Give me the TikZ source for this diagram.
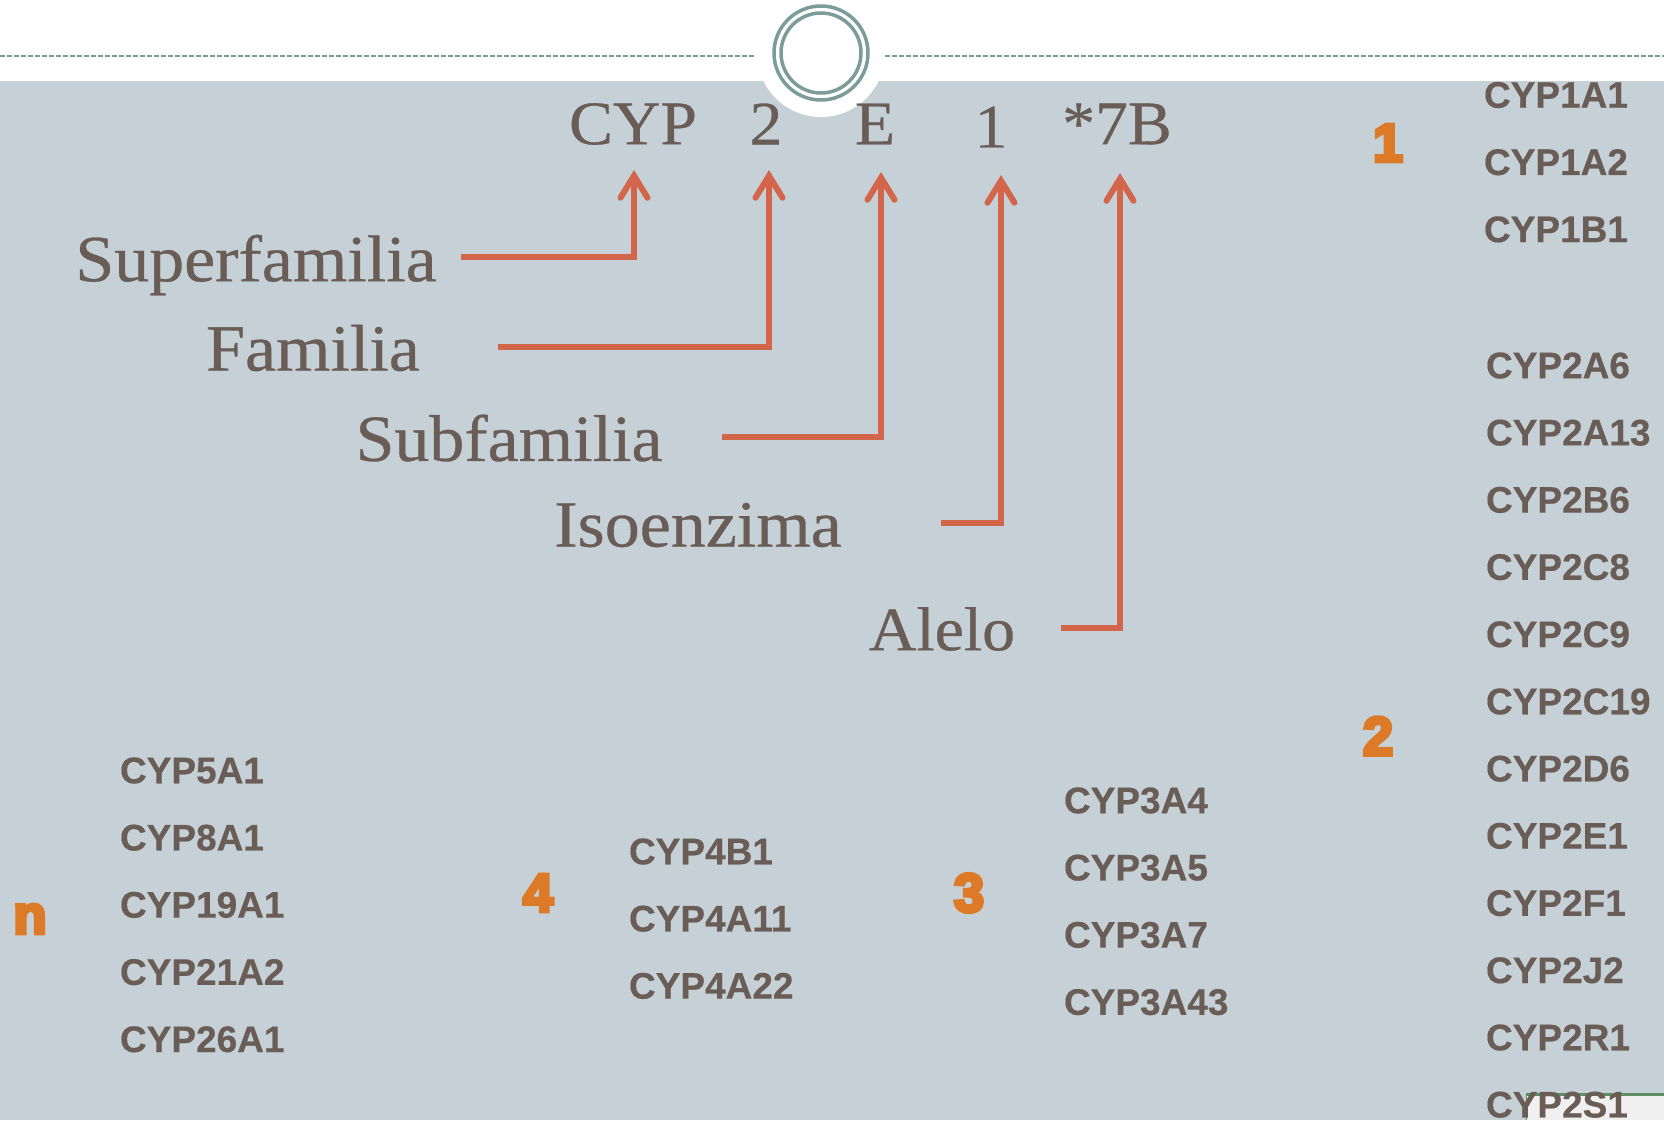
\documentclass[tikz,border=0pt]{standalone}
\usepackage{fontspec}
\setmainfont[FakeStretch=1.06,FakeBold=0.5]{Liberation Serif}
\setsansfont[FakeBold=0.4]{Liberation Sans}
\newfontfamily\digitfont[FakeBold=7]{Liberation Sans Bold}
\usetikzlibrary{arrows, arrows.meta, positioning}
\definecolor{slidebg}{HTML}{C5D1D7}
\definecolor{inktext}{HTML}{695D56}
\definecolor{ringteal}{HTML}{7C9C9A}
\definecolor{arrowred}{HTML}{D3654A}
\definecolor{digitorange}{HTML}{DC7A28}
\definecolor{boxgreen}{HTML}{5E8F62}
\tikzstyle{cyp} = [
  inner sep=0,
  text width=170pt,
  align=left,
  text=inktext,
  font=\sffamily\bfseries\fontsize{37}{37}\selectfont
]
\tikzstyle{code} = [
  inner sep=0,
  text=inktext,
  font=\fontsize{62}{62}\selectfont
]
\tikzstyle{level} = [
  inner sep=0,
  text=inktext,
  font=\fontsize{66}{66}\selectfont
]
\tikzstyle{digit} = [
  inner sep=0,
  text=digitorange,
  font=\digitfont\fontsize{54}{54}\selectfont
]
\tikzstyle{arrow} = [
  line width=5.5pt,
  arrowred,
  -{Straight Barb[length=22pt,width=27pt,line width=6pt,line cap=round,line join=miter]}
]

\begin{document}
\begin{tikzpicture}[x=1pt,y=1pt,node distance=67.2pt]
      \useasboundingbox (0,0) rectangle (1664,-1120);
      \fill [slidebg] (0,-81) rectangle (1664,-1120);
      \fill [white] (821,-53) circle (64);
      \draw [ringteal, line width=2pt, dash pattern=on 5pt off 2pt] (0,-56) -- (755,-56);
      \draw [ringteal, line width=2pt, dash pattern=on 5pt off 2pt] (885,-56) -- (1664,-56);
      \draw [ringteal, line width=3.5pt] (821,-53) circle (47);
      \draw [ringteal, line width=3.5pt] (821,-53) circle (40);
      \fill [black!6] (1526,-1094) rectangle (1664,-1120);
      \draw [boxgreen, line width=1pt] (1526,-1120) -- (1526,-1094);
      \draw [boxgreen, line width=3pt] (1526,-1094) -- (1664,-1094);

      \node [code] (cyp) at (633,-124) {CYP};
      \node [code] (fam) at (766,-124) {2};
      \node [code] (sub) at (875,-124) {E};
      \node [code] (iso) at (991,-127) {1};
      \node [code] (ale) at (1117,-124) {*7B};

      \node [level] (superfamilia) at (256,-265) {Superfamilia};
      \node [level] (familia) at (313,-348) {Familia};
      \node [level] (subfamilia) at (509,-438) {Subfamilia};
      \node [level] (isoenzima) at (698,-525) {Isoenzima};
      \node [level, font=\fontsize{62}{62}\selectfont] (alelo) at (942,-629) {Alelo};

      \coordinate (superend) at (461,-257);
      \coordinate (famend) at (498,-347);
      \coordinate (subend) at (722,-437);
      \coordinate (isoend) at (941,-523);
      \coordinate (aleend) at (1061,-628);
      \coordinate (cyptip) at (634,-170);
      \coordinate (famtip) at (769,-170);
      \coordinate (subtip) at (881,-172);
      \coordinate (isotip) at (1001,-175);
      \coordinate (aletip) at (1120,-173);

      \draw [arrow] (superend) -| (cyptip);
      \draw [arrow] (famend) -| (famtip);
      \draw [arrow] (subend) -| (subtip);
      \draw [arrow] (isoend) -| (isotip);
      \draw [arrow] (aleend) -| (aletip);

      % family 1
      \node [digit] (one) at (1388,-143) {1};
      \node [cyp] (a1) at (1569,-95) {CYP1A1};
      \node [cyp, below of=a1] (a2) {CYP1A2};
      \node [cyp, below of=a2] (b1) {CYP1B1};

      % family 2
      \node [digit] (two) at (1378,-736) {2};
      \node [cyp] (twoa6) at (1571,-365.5) {CYP2A6};
      \node [cyp, below of=twoa6] (twoa13) {CYP2A13};
      \node [cyp, below of=twoa13] (twob6) {CYP2B6};
      \node [cyp, below of=twob6] (twoc8) {CYP2C8};
      \node [cyp, below of=twoc8] (twoc9) {CYP2C9};
      \node [cyp, below of=twoc9] (twoc19) {CYP2C19};
      \node [cyp, below of=twoc19] (twod6) {CYP2D6};
      \node [cyp, below of=twod6] (twoe1) {CYP2E1};
      \node [cyp, below of=twoe1] (twof1) {CYP2F1};
      \node [cyp, below of=twof1] (twoj2) {CYP2J2};
      \node [cyp, below of=twoj2] (twor1) {CYP2R1};
      \node [cyp, below of=twor1] (twos1) {CYP2S1};

      % family 3
      \node [digit] (three) at (969,-893) {3};
      \node [cyp] (threea4) at (1149,-800.5) {CYP3A4};
      \node [cyp, below of=threea4] (threea5) {CYP3A5};
      \node [cyp, below of=threea5] (threea7) {CYP3A7};
      \node [cyp, below of=threea7] (threea43) {CYP3A43};

      % family 4
      \node [digit] (four) at (538,-893) {4};
      \node [cyp] (fourb1) at (714,-851.5) {CYP4B1};
      \node [cyp, below of=fourb1] (foura11) {CYP4A11};
      \node [cyp, below of=foura11] (foura22) {CYP4A22};

      % the others
      \node [digit] (other) at (30,-919) {n};
      \node [cyp] (five) at (205,-770.5) {CYP5A1};
      \node [cyp, below of=five] (eight) {CYP8A1};
      \node [cyp, below of=eight] (nineteen) {CYP19A1};
      \node [cyp, below of=nineteen] (twentyone) {CYP21A2};
      \node [cyp, below of=twentyone] (twentysix) {CYP26A1};

    \end{tikzpicture}
\end{document}
